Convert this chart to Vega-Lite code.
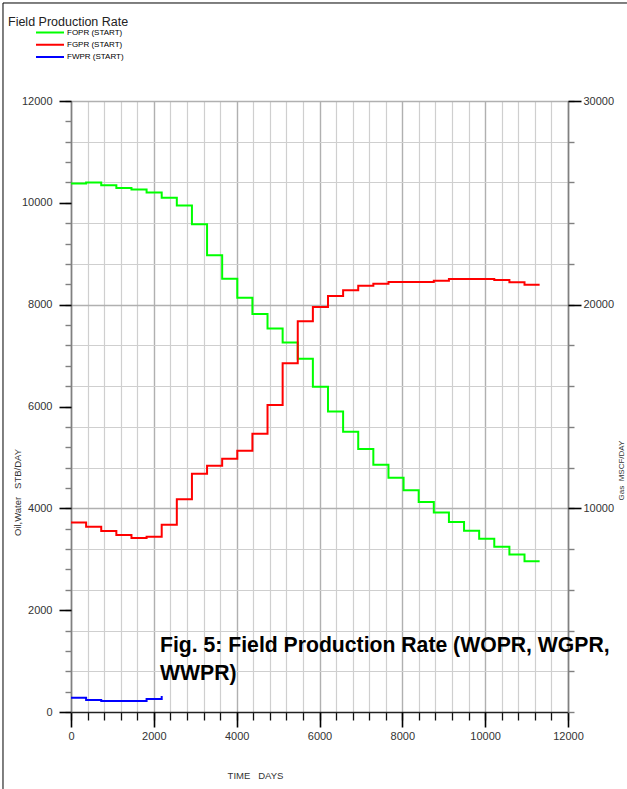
{
  "$schema": "https://vega.github.io/schema/vega-lite/v6.json",
  "width": 497,
  "height": 611,
  "autosize": {"type": "none"},
  "padding": {"left": 71, "top": 101, "right": 59, "bottom": 77},
  "background": "white",
  "title": {
    "text": "Field Production Rate",
    "anchor": "start",
    "frame": "group",
    "dx": -63,
    "offset": -36,
    "baseline": "alphabetic",
    "font": "Liberation Sans",
    "fontSize": 12.5,
    "fontWeight": "normal",
    "color": "#222"
  },
  "config": {
    "view": {"stroke": null},
    "font": "Liberation Sans",
    "axis": {
      "labelFont": "Liberation Sans",
      "titleFont": "Liberation Sans",
      "labelColor": "#333",
      "titleColor": "#333",
      "titleFontWeight": "normal",
      "labelFlush": false,
      "format": "d"
    }
  },
  "datasets": {
    "rates": [
      {"series": "FOPR (START)", "day": 0, "rate": 10380},
      {"series": "FOPR (START)", "day": 365, "rate": 10400},
      {"series": "FOPR (START)", "day": 730, "rate": 10345},
      {"series": "FOPR (START)", "day": 1095, "rate": 10290},
      {"series": "FOPR (START)", "day": 1460, "rate": 10260},
      {"series": "FOPR (START)", "day": 1825, "rate": 10205},
      {"series": "FOPR (START)", "day": 2190, "rate": 10100},
      {"series": "FOPR (START)", "day": 2555, "rate": 9950},
      {"series": "FOPR (START)", "day": 2920, "rate": 9580},
      {"series": "FOPR (START)", "day": 3285, "rate": 8970},
      {"series": "FOPR (START)", "day": 3650, "rate": 8510},
      {"series": "FOPR (START)", "day": 4015, "rate": 8135},
      {"series": "FOPR (START)", "day": 4380, "rate": 7815},
      {"series": "FOPR (START)", "day": 4745, "rate": 7530},
      {"series": "FOPR (START)", "day": 5110, "rate": 7255},
      {"series": "FOPR (START)", "day": 5475, "rate": 6940},
      {"series": "FOPR (START)", "day": 5840, "rate": 6390},
      {"series": "FOPR (START)", "day": 6205, "rate": 5900},
      {"series": "FOPR (START)", "day": 6570, "rate": 5505},
      {"series": "FOPR (START)", "day": 6935, "rate": 5165},
      {"series": "FOPR (START)", "day": 7300, "rate": 4855},
      {"series": "FOPR (START)", "day": 7665, "rate": 4600},
      {"series": "FOPR (START)", "day": 8030, "rate": 4355},
      {"series": "FOPR (START)", "day": 8395, "rate": 4125},
      {"series": "FOPR (START)", "day": 8760, "rate": 3920},
      {"series": "FOPR (START)", "day": 9125, "rate": 3730},
      {"series": "FOPR (START)", "day": 9490, "rate": 3560},
      {"series": "FOPR (START)", "day": 9855, "rate": 3405},
      {"series": "FOPR (START)", "day": 10220, "rate": 3245},
      {"series": "FOPR (START)", "day": 10585, "rate": 3095},
      {"series": "FOPR (START)", "day": 10950, "rate": 2960},
      {"series": "FOPR (START)", "day": 11315, "rate": 2960},
      {"series": "FGPR (START)", "day": 0, "rate": 9310},
      {"series": "FGPR (START)", "day": 365, "rate": 9100},
      {"series": "FGPR (START)", "day": 730, "rate": 8890},
      {"series": "FGPR (START)", "day": 1095, "rate": 8690},
      {"series": "FGPR (START)", "day": 1460, "rate": 8540},
      {"series": "FGPR (START)", "day": 1825, "rate": 8610},
      {"series": "FGPR (START)", "day": 2190, "rate": 9200},
      {"series": "FGPR (START)", "day": 2555, "rate": 10440},
      {"series": "FGPR (START)", "day": 2920, "rate": 11700},
      {"series": "FGPR (START)", "day": 3285, "rate": 12095},
      {"series": "FGPR (START)", "day": 3650, "rate": 12435},
      {"series": "FGPR (START)", "day": 4015, "rate": 12830},
      {"series": "FGPR (START)", "day": 4380, "rate": 13665},
      {"series": "FGPR (START)", "day": 4745, "rate": 15075},
      {"series": "FGPR (START)", "day": 5110, "rate": 17120},
      {"series": "FGPR (START)", "day": 5475, "rate": 19180},
      {"series": "FGPR (START)", "day": 5840, "rate": 19890},
      {"series": "FGPR (START)", "day": 6205, "rate": 20420},
      {"series": "FGPR (START)", "day": 6570, "rate": 20705},
      {"series": "FGPR (START)", "day": 6935, "rate": 20930},
      {"series": "FGPR (START)", "day": 7300, "rate": 21030},
      {"series": "FGPR (START)", "day": 7665, "rate": 21110},
      {"series": "FGPR (START)", "day": 8030, "rate": 21110},
      {"series": "FGPR (START)", "day": 8395, "rate": 21110},
      {"series": "FGPR (START)", "day": 8760, "rate": 21180},
      {"series": "FGPR (START)", "day": 9125, "rate": 21260},
      {"series": "FGPR (START)", "day": 9490, "rate": 21260},
      {"series": "FGPR (START)", "day": 9855, "rate": 21260},
      {"series": "FGPR (START)", "day": 10220, "rate": 21210},
      {"series": "FGPR (START)", "day": 10585, "rate": 21100},
      {"series": "FGPR (START)", "day": 10950, "rate": 20980},
      {"series": "FGPR (START)", "day": 11315, "rate": 20980},
      {"series": "FWPR (START)", "day": 0, "rate": 280},
      {"series": "FWPR (START)", "day": 365, "rate": 236},
      {"series": "FWPR (START)", "day": 730, "rate": 216},
      {"series": "FWPR (START)", "day": 1095, "rate": 216},
      {"series": "FWPR (START)", "day": 1460, "rate": 216},
      {"series": "FWPR (START)", "day": 1825, "rate": 255},
      {"series": "FWPR (START)", "day": 2190, "rate": 315}
    ]
  },
  "data": {"name": "rates"},
  "layer": [
    {
      "layer": [
        {
          "transform": [{"filter": {"field": "series", "oneOf": ["FOPR (START)", "FWPR (START)"]}}],
          "mark": {"type": "line", "interpolate": "step-after", "strokeWidth": 2},
          "encoding": {
            "x": {
              "field": "day", "type": "quantitative",
              "scale": {"domain": [0, 12000], "nice": false},
              "axis": {
                "orient": "bottom",
                "values": [0,400,800,1200,1600,2000,2400,2800,3200,3600,4000,4400,4800,5200,5600,6000,6400,6800,7200,7600,8000,8400,8800,9200,9600,10000,10400,10800,11200,11600,12000],
                "labels": false, "title": null,
                "tickSize": 8, "tickColor": "#111", "tickWidth": 1.3,
                "domainColor": "#222", "domainWidth": 1.6,
                "grid": true, "gridColor": "#cfcfcf", "gridWidth": 1.2
              }
            },
            "y": {
              "field": "rate", "type": "quantitative",
              "scale": {"domain": [0, 12000], "nice": false},
              "axis": {
                "orient": "left",
                "values": [0,400,800,1200,1600,2000,2400,2800,3200,3600,4000,4400,4800,5200,5600,6000,6400,6800,7200,7600,8000,8400,8800,9200,9600,10000,10400,10800,11200,11600,12000],
                "labels": false, "title": null, "grid": false,
                "tickSize": 6, "tickColor": "#808080", "tickWidth": 1.4,
                "domainColor": "#808080", "domainWidth": 1.6
              }
            },
            "color": {
              "field": "series", "type": "nominal",
              "scale": {"domain": ["FOPR (START)", "FGPR (START)", "FWPR (START)"], "range": ["#00ff00", "#ff0000", "#0000ff"]},
              "legend": {
                "title": null, "orient": "none", "legendX": -36, "legendY": -74,
                "direction": "vertical", "symbolType": "stroke", "symbolSize": 784,
                "symbolStrokeWidth": 2, "labelFont": "Liberation Sans", "labelFontSize": 8,
                "labelColor": "#000", "labelOffset": 2, "clipHeight": 11, "rowPadding": 1.2, "padding": 0
              }
            }
          }
        },
        {
          "data": {"values": [{}]},
          "mark": {
            "type": "text",
            "text": ["Fig. 5: Field Production Rate (WOPR, WGPR,", "WWPR)"],
            "align": "left", "baseline": "alphabetic",
            "font": "Liberation Sans", "fontSize": 21.2, "fontWeight": "bold",
            "lineHeight": 28, "color": "#000"
          },
          "encoding": {
            "x": {
              "datum": 2149, "type": "quantitative",
              "scale": {"domain": [0, 12000], "nice": false},
              "axis": {
                "orient": "bottom",
                "values": [0, 2000, 4000, 6000, 8000, 10000, 12000],
                "domain": false, "tickSize": 15, "tickColor": "#000", "tickWidth": 1.6,
                "grid": true, "gridColor": "#b0b0b0", "gridWidth": 1.3,
                "labelFontSize": 11, "labelPadding": 3, "format": "d",
                "title": "TIME\u00a0\u00a0\u00a0DAYS", "titleFontSize": 9.5,
                "titleX": 184, "titleY": 63, "titleBaseline": "middle", "titleAlign": "center"
              }
            },
            "y": {
              "datum": 1178, "type": "quantitative",
              "scale": {"domain": [0, 12000], "nice": false},
              "axis": {
                "orient": "left",
                "values": [0, 2000, 4000, 6000, 8000, 10000, 12000],
                "domain": false, "grid": false, "tickSize": 12, "tickColor": "#000", "tickWidth": 1.6,
                "labelFontSize": 11, "labelPadding": 7, "format": "d",
                "title": "Oil,Water\u00a0\u00a0\u00a0STB/DAY", "titleFontSize": 9.5, "titleAngle": 270,
                "titleX": -54, "titleY": 391, "titleBaseline": "middle", "titleAlign": "center"
              }
            }
          }
        },
        {
          "data": {"values": [{}]},
          "mark": {"type": "rule", "color": "#000", "strokeWidth": 1},
          "encoding": {
            "x": {"datum": -1642, "type": "quantitative", "scale": {"domain": [0, 12000], "nice": false}, "axis": null},
            "y": {"datum": -1512, "type": "quantitative", "scale": {"domain": [0, 12000], "nice": false}, "axis": null},
            "y2": {"datum": 13925}
          }
        }
      ],
      "resolve": {"axis": {"x": "independent", "y": "independent"}}
    },
    {
      "layer": [
        {
          "transform": [{"filter": {"field": "series", "equal": "FGPR (START)"}}],
          "mark": {"type": "line", "interpolate": "step-after", "strokeWidth": 2},
          "encoding": {
            "x": {"field": "day", "type": "quantitative", "scale": {"domain": [0, 12000], "nice": false}, "axis": null},
            "y": {
              "field": "rate", "type": "quantitative",
              "scale": {"domain": [0, 30000], "nice": false},
              "axis": {
                "orient": "right",
                "values": [0,2000,4000,6000,8000,10000,12000,14000,16000,18000,20000,22000,24000,26000,28000,30000],
                "labels": false, "title": null,
                "tickSize": 6, "tickColor": "#808080", "tickWidth": 1.4,
                "domainColor": "#808080", "domainWidth": 1.6,
                "grid": true, "gridColor": "#cfcfcf", "gridWidth": 1.2
              }
            },
            "color": {
              "field": "series", "type": "nominal",
              "scale": {"domain": ["FOPR (START)", "FGPR (START)", "FWPR (START)"], "range": ["#00ff00", "#ff0000", "#0000ff"]},
              "legend": {
                "title": null, "orient": "none", "legendX": -36, "legendY": -74,
                "direction": "vertical", "symbolType": "stroke", "symbolSize": 784,
                "symbolStrokeWidth": 2, "labelFont": "Liberation Sans", "labelFontSize": 8,
                "labelColor": "#000", "labelOffset": 2, "clipHeight": 11, "rowPadding": 1.2, "padding": 0
              }
            }
          }
        },
        {
          "data": {"values": [{}]},
          "mark": {"type": "rule", "color": "#000", "strokeWidth": 1},
          "encoding": {
            "x": {"datum": -1642, "type": "quantitative", "scale": {"domain": [0, 12000], "nice": false}, "axis": null},
            "x2": {"datum": 13424},
            "y": {
              "datum": 34812, "type": "quantitative",
              "scale": {"domain": [0, 30000], "nice": false},
              "axis": {
                "orient": "right",
                "values": [10000, 20000, 30000],
                "domain": false, "tickSize": 13, "tickColor": "#000", "tickWidth": 1.6,
                "grid": true, "gridColor": "#b0b0b0", "gridWidth": 1.3,
                "labelFontSize": 11, "labelPadding": 2, "format": "d",
                "title": "Gas\u00a0\u00a0MSCF/DAY", "titleFontSize": 8, "titleAngle": 270,
                "titleX": 53, "titleY": 369, "titleBaseline": "middle", "titleAlign": "center"
              }
            }
          }
        }
      ],
      "resolve": {"axis": {"y": "independent"}}
    }
  ],
  "resolve": {"scale": {"y": "independent"}}
}
